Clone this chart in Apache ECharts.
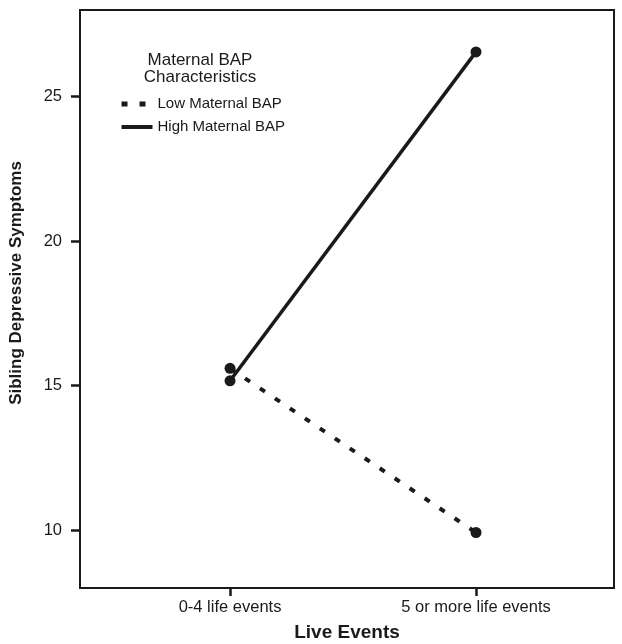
<!DOCTYPE html>
<html><head><meta charset="utf-8">
<script src="https://cdn.jsdelivr.net/npm/echarts@6/dist/echarts.min.js"></script>
<style>html,body{margin:0;padding:0;background:#fff}#c{width:622px;height:644px}</style>
</head><body><div id="c"></div>
<script>
var categories = ["0-4 life events", "5 or more life events"];
var lowBAP = [15.6, 9.92];
var highBAP = [15.17, 26.55];
var yTicks = [10, 15, 20, 25];

var ink = '#1a1a1a';
var font = 'Liberation Sans, Arial, sans-serif';
function pts(arr){ return arr.map(function(v,i){ return [i, v]; }); }

var chart = echarts.init(document.getElementById('c'), null, {renderer:'canvas'});
chart.setOption({
  animation: false,
  backgroundColor: '#fff',
  title: {
    text: 'Maternal BAP\nCharacteristics',
    left: 200, top: 52.5, textAlign: 'center', padding: 0,
    textStyle: {fontFamily: font, fontSize: 17, fontWeight: 'normal', color: ink, lineHeight: 16.5}
  },
  legend: {
    orient: 'vertical', left: 119, top: 96.5, itemGap: 8, itemWidth: 31, itemHeight: 14, padding: 0,
    textStyle: {fontFamily: font, fontSize: 15, color: ink},
    itemStyle: {opacity: 0},
    data: [
      {name: 'Low Maternal BAP', lineStyle: {type: [6, 12], width: 5}},
      {name: 'High Maternal BAP', lineStyle: {width: 4}}
    ]
  },
  grid: {left: 80, right: 8, top: 10, bottom: 56, outerBoundsMode: 'none', containLabel: false,
    show: true, borderColor: ink, borderWidth: 2, backgroundColor: 'transparent'},
  xAxis: {
    type: 'value', min: -0.61, max: 1.561,
    name: 'Live Events', nameLocation: 'middle', nameGap: 35,
    nameTextStyle: {fontFamily: font, fontSize: 19, fontWeight: 'bold', color: ink},
    axisLine: {show: true, onZero: false, lineStyle: {color: ink, width: 2}},
    axisTick: {show: true, length: 8, lineStyle: {color: ink, width: 2.5}, customValues: [0, 1]},
    axisLabel: {show: true, customValues: [0, 1], margin: 11, fontFamily: font, fontSize: 16.5, color: ink,
      formatter: function(v){ return categories[Math.round(v)]; }},
    splitLine: {show: false}
  },
  yAxis: {
    type: 'value', min: 8, max: 28,
    name: 'Sibling Depressive Symptoms', nameLocation: 'middle', nameGap: 55, nameRotate: 90,
    nameTextStyle: {fontFamily: font, fontSize: 17, fontWeight: 'bold', color: ink, padding: [0, 0, 0, 32]},
    axisLine: {show: true, onZero: false, lineStyle: {color: ink, width: 2}},
    axisTick: {show: true, length: 9, lineStyle: {color: ink, width: 2.5}, customValues: yTicks},
    axisLabel: {show: true, customValues: yTicks, margin: 18, fontFamily: font, fontSize: 16.5, color: ink},
    splitLine: {show: false}
  },
  series: [
    {name: 'Low Maternal BAP', type: 'line', data: pts(lowBAP), symbol: 'circle', symbolSize: 11,
     itemStyle: {color: ink}, lineStyle: {color: ink, width: 4, type: [6, 12]}},
    {name: 'High Maternal BAP', type: 'line', data: pts(highBAP), symbol: 'circle', symbolSize: 11,
     itemStyle: {color: ink}, lineStyle: {color: ink, width: 3.5}}
  ]
});
</script></body></html>
